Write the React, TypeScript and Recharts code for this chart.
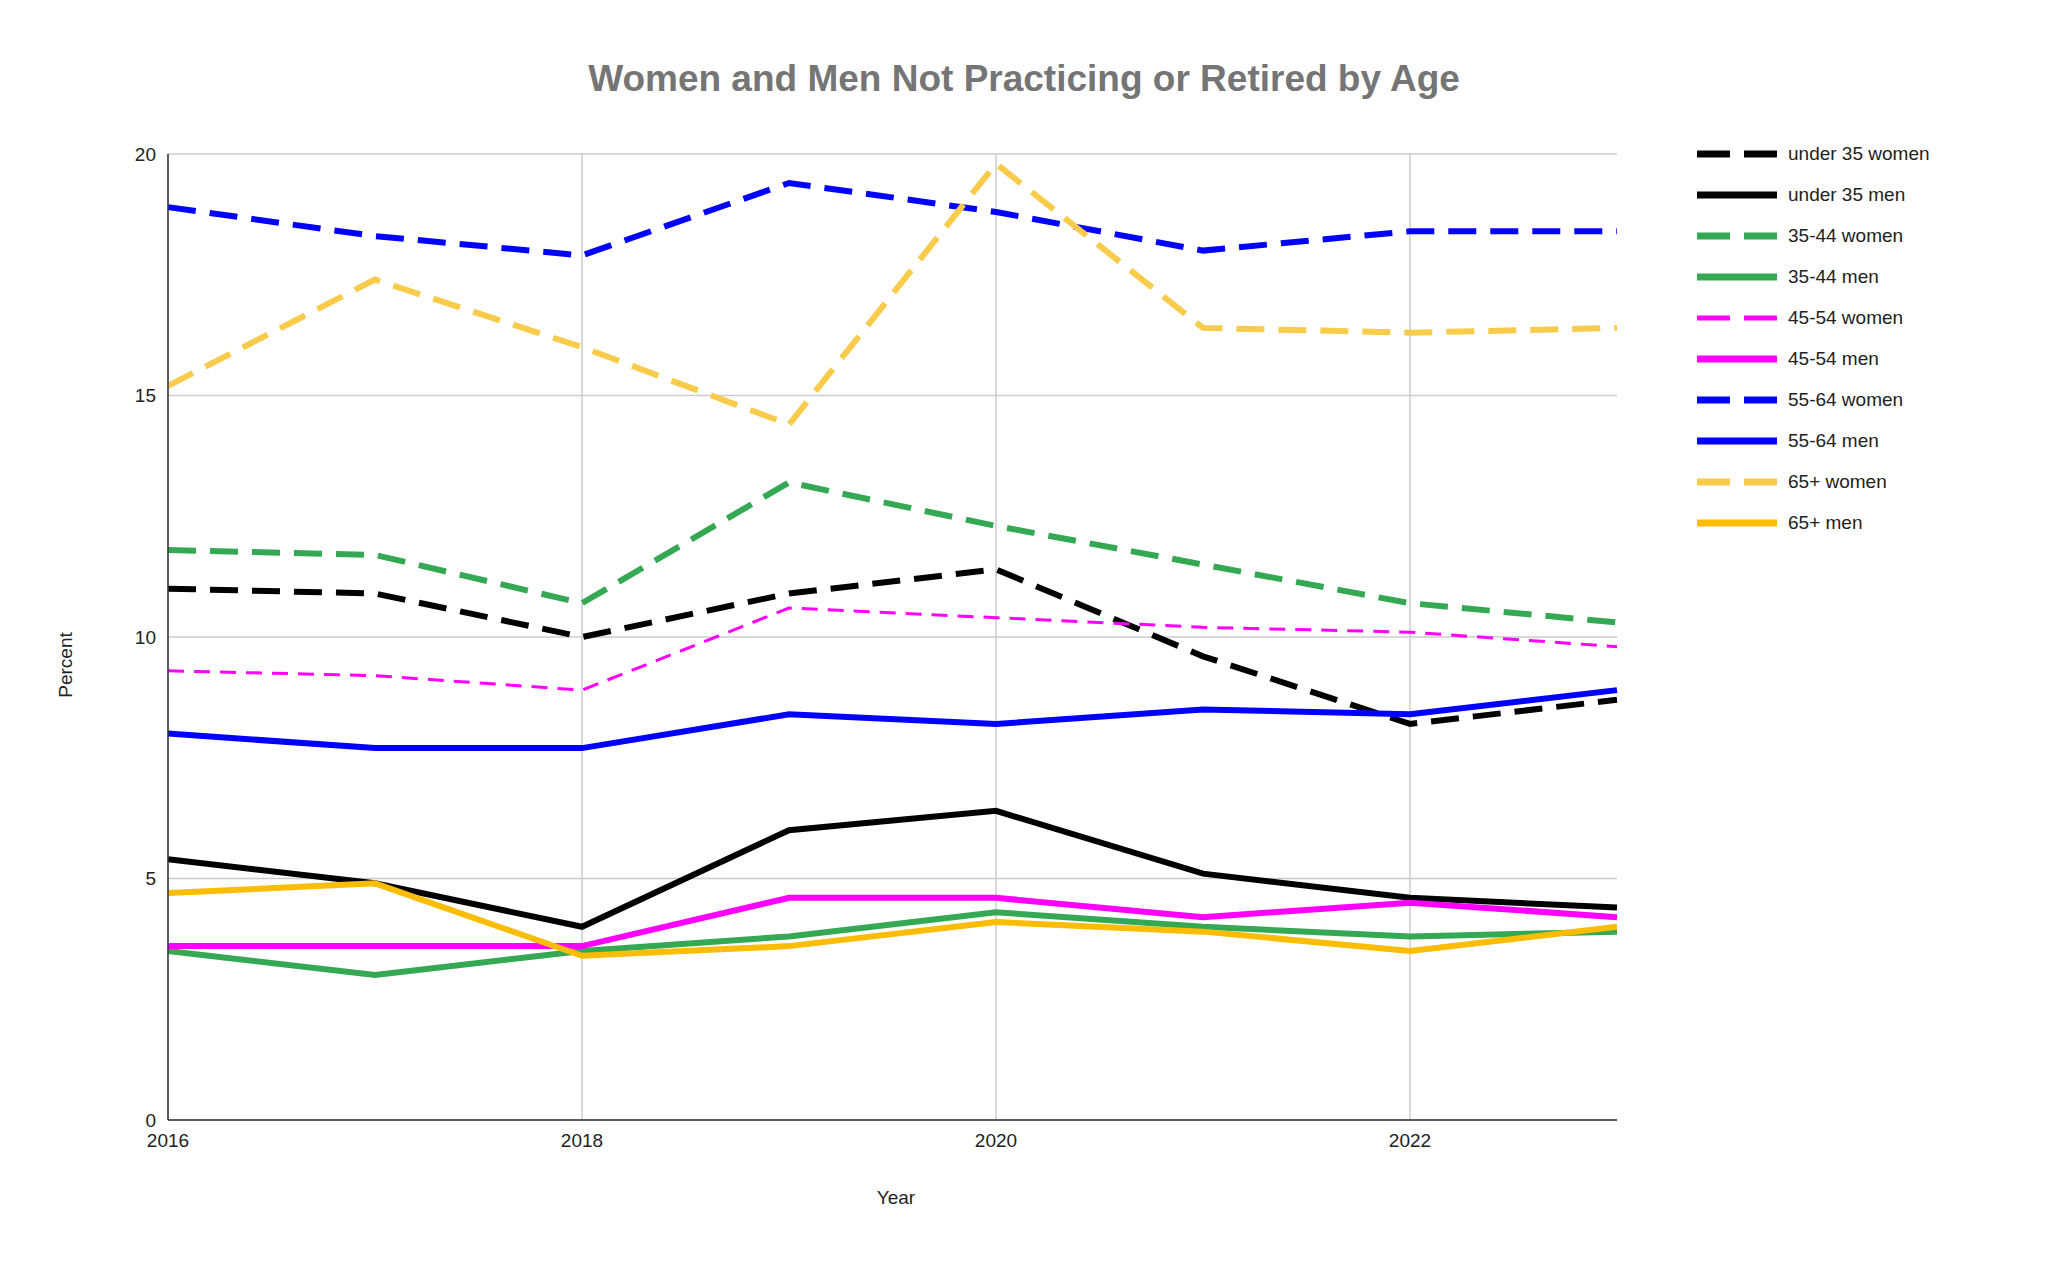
import { LineChart, Line, XAxis, YAxis, CartesianGrid } from "recharts";

const years = [2016, 2017, 2018, 2019, 2020, 2021, 2022, 2023];
const xTicks = [2016, 2018, 2020, 2022];
const yTicks = [0, 5, 10, 15, 20];

const under35Women = [11.0, 10.9, 10.0, 10.9, 11.4, 9.6, 8.2, 8.7];
const under35Men = [5.4, 4.9, 4.0, 6.0, 6.4, 5.1, 4.6, 4.4];
const w3544 = [11.8, 11.7, 10.7, 13.2, 12.3, 11.5, 10.7, 10.3];
const m3544 = [3.5, 3.0, 3.5, 3.8, 4.3, 4.0, 3.8, 3.9];
const w4554 = [9.3, 9.2, 8.9, 10.6, 10.4, 10.2, 10.1, 9.8];
const m4554 = [3.6, 3.6, 3.6, 4.6, 4.6, 4.2, 4.5, 4.2];
const w5564 = [18.9, 18.3, 17.9, 19.4, 18.8, 18.0, 18.4, 18.4];
const m5564 = [8.0, 7.7, 7.7, 8.4, 8.2, 8.5, 8.4, 8.9];
const w65 = [15.2, 17.4, 16.0, 14.4, 19.8, 16.4, 16.3, 16.4];
const m65 = [4.7, 4.9, 3.4, 3.6, 4.1, 3.9, 3.5, 4.0];

const series = [
  { key: "u35w", name: "under 35 women", values: under35Women, color: "#000000", dash: "28 14", width: 6 },
  { key: "u35m", name: "under 35 men", values: under35Men, color: "#000000", dash: undefined, width: 6 },
  { key: "w3544", name: "35-44 women", values: w3544, color: "#34a853", dash: "28 14", width: 6 },
  { key: "m3544", name: "35-44 men", values: m3544, color: "#34a853", dash: undefined, width: 6 },
  { key: "w4554", name: "45-54 women", values: w4554, color: "#ff00ff", dash: "16 10", width: 3 },
  { key: "m4554", name: "45-54 men", values: m4554, color: "#ff00ff", dash: undefined, width: 6 },
  { key: "w5564", name: "55-64 women", values: w5564, color: "#0000ff", dash: "28 14", width: 6 },
  { key: "m5564", name: "55-64 men", values: m5564, color: "#0000ff", dash: undefined, width: 6 },
  { key: "w65", name: "65+ women", values: w65, color: "#f9cb4a", dash: "28 14", width: 6 },
  { key: "m65", name: "65+ men", values: m65, color: "#fbbc04", dash: undefined, width: 6 },
];

const data = years.map((year, i) => {
  const row: Record<string, number> = { year };
  series.forEach((s) => (row[s.key] = s.values[i]));
  return row;
});

const font = "Arial, 'Liberation Sans', sans-serif";

export default function App() {
  return (
    <div style={{ position: "absolute", left: 0, top: 0, width: 2048, height: 1265, background: "#fff", fontFamily: font }}>
      <div style={{ position: "absolute", top: 58, left: 0, width: 2048, textAlign: "center", fontSize: 37, fontWeight: "bold", color: "#757575" }}>
        <span>Women and Men Not Practicing or Retired by Age</span>
      </div>
      <LineChart width={2048} height={1265} data={data} margin={{ top: 154, right: 431, left: 108, bottom: 115 }}>
        <CartesianGrid stroke="#cccccc" strokeWidth={1.5} verticalValues={xTicks} />
        <XAxis
          dataKey="year"
          type="number"
          domain={[2016, 2023]}
          ticks={xTicks}
          height={30}
          tickLine={false}
          axisLine={{ stroke: "#333", strokeWidth: 1.5 }}
          tick={{ fill: "#222", fontSize: 19, fontFamily: font }}
          tickMargin={8}
        />
        <YAxis
          domain={[0, 20]}
          ticks={yTicks}
          width={60}
          tickLine={false}
          axisLine={{ stroke: "#333", strokeWidth: 1.5 }}
          tick={{ fill: "#222", fontSize: 19, fontFamily: font }}
          tickMargin={6}
        />
        {series.map((s) => (
          <Line
            key={s.key}
            dataKey={s.key}
            name={s.name}
            type="linear"
            stroke={s.color}
            strokeWidth={s.width}
            strokeDasharray={s.dash}
            dot={false}
            isAnimationActive={false}
          />
        ))}
      </LineChart>
      <div style={{ position: "absolute", left: 66, top: 665, transform: "translate(-50%, -50%) rotate(-90deg)", fontSize: 19, color: "#222" }}>
        Percent
      </div>
      <div style={{ position: "absolute", left: 896, top: 1198, transform: "translate(-50%, -50%)", fontSize: 19, color: "#222" }}>
        Year
      </div>
      <div style={{ position: "absolute", left: 1697, top: 133 }}>
        {series.map((s) => (
          <div key={s.key} style={{ display: "flex", alignItems: "center", height: 41, fontSize: 19, color: "#222" }}>
            <svg width={80} height={10} style={{ marginRight: 11 }}>
              <line x1={0} y1={5} x2={80} y2={5} stroke={s.color} strokeWidth={s.width === 6 ? 7 : 5} strokeDasharray={s.dash ? "33 14" : undefined} />
            </svg>
            {s.name}
          </div>
        ))}
      </div>
    </div>
  );
}
